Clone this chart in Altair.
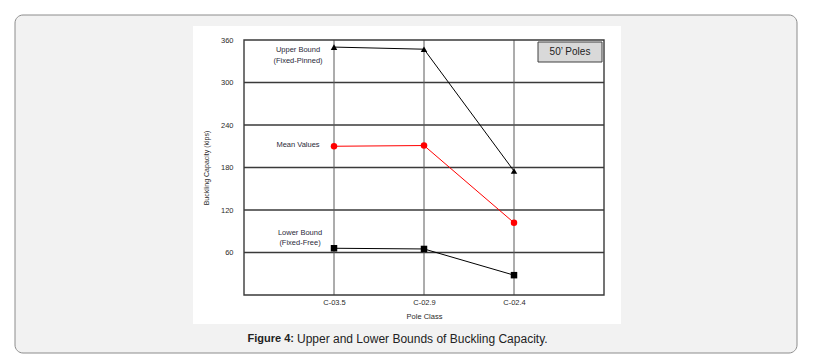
import altair as alt
import pandas as pd

# ---- data ----
classes = ["C-03.5", "C-02.9", "C-02.4"]
upper = [350, 347, 175]
mean = [210, 211, 102]
lower = [66, 65, 28]
series_names = ["Upper Bound", "Mean Values", "Lower Bound"]
series_colors = ["#000000", "#ff0000", "#000000"]
series_shapes = ["triangle-up", "circle", "square"]
y_ticks = [60, 120, 180, 240, 300, 360]
grid_vals = [60, 120, 180, 240, 300]

W, H = 360, 255
FONT = "Liberation Sans"

df = pd.DataFrame({
    "cls": classes * 3,
    "val": upper + mean + lower,
    "series": [s for s in series_names for _ in classes],
})
one = pd.DataFrame({"k": [0]})

xscale = alt.Scale(type="point", padding=1, domain=classes)
yscale = alt.Scale(domain=[0, 360], nice=False, zero=True)
cscale = alt.Scale(domain=series_names, range=series_colors)
sscale = alt.Scale(domain=series_names, range=series_shapes)

xaxis = alt.Axis(
    title="Pole Class", labelAngle=0, ticks=False, domain=False, grid=False,
    labelFont=FONT, labelFontSize=7.5, labelColor="#2a2a2a", labelPadding=3,
    titleFont=FONT, titleFontSize=7.5, titleFontWeight="normal",
    titleColor="#2a2a2a", titlePadding=7, zindex=1,
)
yaxis = alt.Axis(
    title="Buckling Capacity (kips)", values=y_ticks, ticks=False,
    domain=False, grid=False, labelFont=FONT, labelFontSize=7.5,
    labelColor="#2a2a2a", labelPadding=11, titleFont=FONT,
    titleFontSize=7, titleFontWeight="normal", titleColor="#2a2a2a",
    titlePadding=11, zindex=1,
)

# ---- page frame (decoration) ----
frame = alt.Chart(one).mark_rect(
    fill="#f2f2f2", stroke="#8c8c8c", strokeWidth=1, cornerRadius=8
).encode(x=alt.value(-229), x2=alt.value(553), y=alt.value(-25), y2=alt.value(313))

white = alt.Chart(one).mark_rect(fill="white").encode(
    x=alt.value(-51), x2=alt.value(377), y=alt.value(-14), y2=alt.value(284)
)

hgrid = alt.Chart(pd.DataFrame({"val": grid_vals})).mark_rule(
    color="#3a3a3a", strokeWidth=1.4
).encode(y=alt.Y("val:Q", scale=yscale, axis=yaxis))

vgrid = alt.Chart(pd.DataFrame({"cls": classes})).mark_rule(
    color="#5a5a5a", strokeWidth=1
).encode(x=alt.X("cls:O", scale=xscale, sort=classes, axis=xaxis))

border = alt.Chart(one).mark_rect(
    fill=None, stroke="#3a3a3a", strokeWidth=1.4
).encode(x=alt.value(0), x2=alt.value(W), y=alt.value(0), y2=alt.value(H))

lines = alt.Chart(df).mark_line(strokeWidth=1).encode(
    x=alt.X("cls:O", scale=xscale, sort=classes),
    y=alt.Y("val:Q", scale=yscale),
    color=alt.Color("series:N", scale=cscale, legend=None),
    detail="series:N",
)

points = alt.Chart(df).mark_point(filled=True, opacity=1, size=42).encode(
    x=alt.X("cls:O", scale=xscale, sort=classes),
    y=alt.Y("val:Q", scale=yscale),
    color=alt.Color("series:N", scale=cscale, legend=None),
    shape=alt.Shape("series:N", scale=sscale, legend=None),
)

def label(text, x, y, size=7.5, weight="normal", align="center", color="#2a2a3a"):
    return alt.Chart(one).mark_text(
        text=text, font=FONT, fontSize=size, fontWeight=weight,
        align=align, baseline="middle", color=color,
    ).encode(x=alt.value(x), y=alt.value(y))

annots = [
    label("Upper Bound", 54, 10),
    label("(Fixed-Pinned)", 54, 21),
    label("Mean Values", 54, 105),
    label("Lower Bound", 56, 193),
    label("(Fixed-Free)", 56, 203),
]

box = alt.Chart(one).mark_rect(fill="#d9d9d9", stroke="#404040", strokeWidth=1).encode(
    x=alt.value(294), x2=alt.value(358), y=alt.value(2), y2=alt.value(22)
)
box_text = label("50\u2019 Poles", 326, 12, size=10, color="#222222")

cap1 = label("Figure 4:", 50, 299, size=11, weight="bold", align="right", color="#222222")
cap2 = label("Upper and Lower Bounds of Buckling Capacity.", 53, 299, size=12,
             align="left", color="#222222")

chart = alt.layer(
    frame, white, hgrid, vgrid, border, lines, points, *annots, box, box_text, cap1, cap2
).properties(
    width=W, height=H, background="white",
    padding={"left": 6, "top": 6, "right": 2, "bottom": 2},
).configure_view(stroke=None)

chart.save("out.html", embed_options={"renderer": "svg", "actions": False})
